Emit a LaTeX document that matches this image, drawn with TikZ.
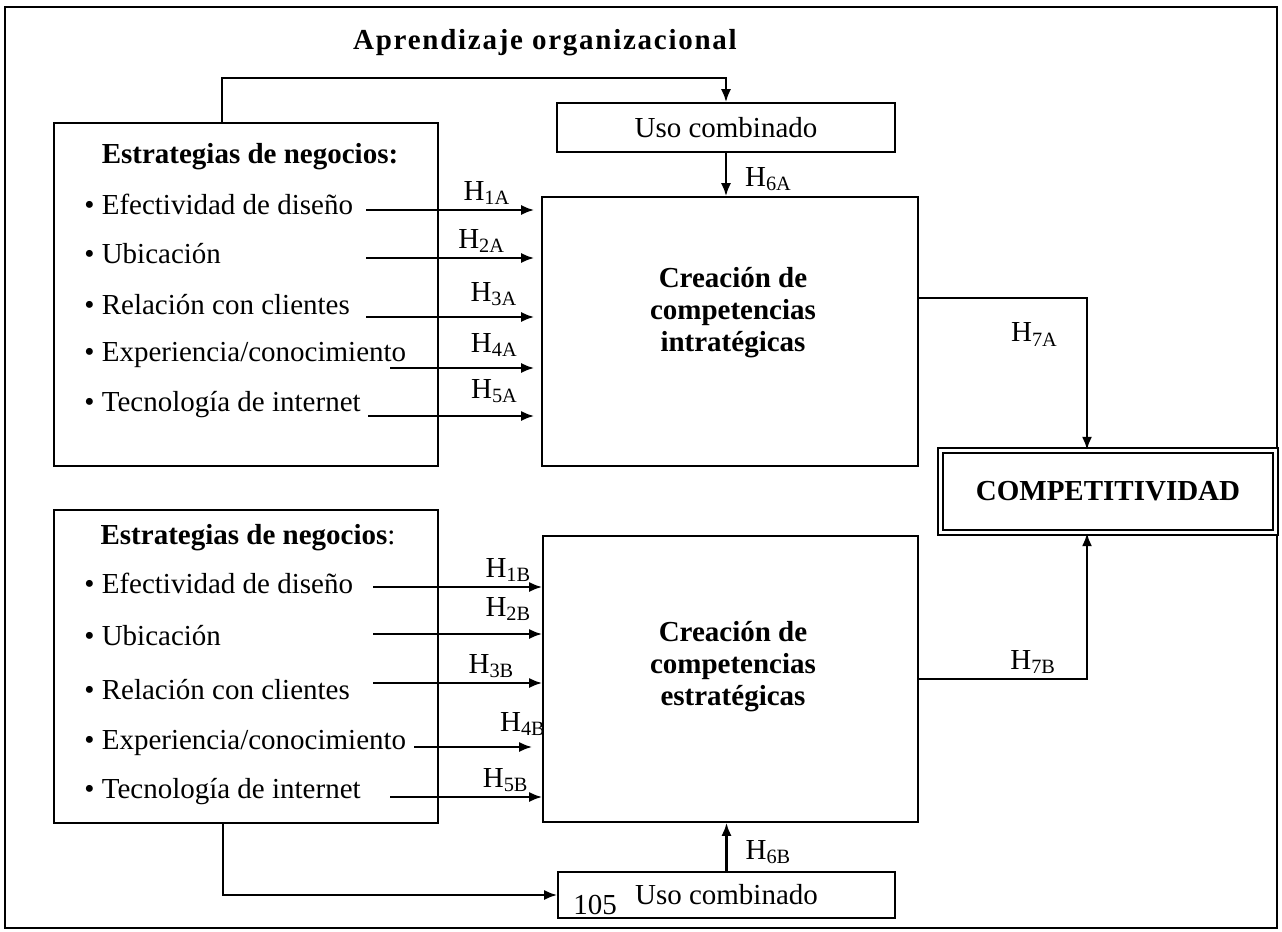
\documentclass[tikz,border=0pt]{standalone}
\usepackage{fontspec}
\setmainfont{Liberation Serif}
\usetikzlibrary{arrows.meta}

\begin{document}
\begin{tikzpicture}[x=0.5pt, y=-0.5pt, >={Latex[length=6.5pt,width=5pt]},
  txt/.style = {font=\fontsize{14.5pt}{17pt}\selectfont},
  bold/.style = {font=\fontsize{14.5pt}{16pt}\selectfont\bfseries},
  box/.style = {draw, line width=0.8pt, inner sep=0pt, txt},
  item/.style = {anchor=west, inner sep=0pt, txt},
  hyp/.style = {inner sep=2pt, txt},
  conn/.style = {line width=1.1pt}]
\useasboundingbox (0,0) rectangle (1282,932);
\draw[line width=0.8pt] (5,7) rectangle (1277,928);
\node[bold] (title) at (545,43) {\addfontfeature{LetterSpace=6}Aprendizaje organizacional};

% bloque A
\node[box, minimum width=169pt, minimum height=24.5pt] (usoA) at (726,127.5) {Uso combinado};
\node[box, minimum width=192pt, minimum height=171.5pt] (estA) at (246,294.5) {};
\node[bold] (estAt) at (250,157) {Estrategias de negocios:};
\node[item] (ia1) at (84,204) {\textbullet\ Efectividad de diseño};
\node[item] (ia2) at (84,254) {\textbullet\ Ubicación};
\node[item] (ia3) at (84,305) {\textbullet\ Relación con clientes};
\node[item] (ia4) at (84,355) {\textbullet\ Experiencia/conocimiento};
\node[item] (ia5) at (84,405) {\textbullet\ Tecnología de internet};
\node[box, minimum width=188pt, minimum height=134.5pt] (creaA) at (730,331.5) {};
\node[bold, align=center] (creaAt) at (733,313) {Creación de\\competencias\\intratégicas};

% bloque B
\node[box, minimum width=192pt, minimum height=156.5pt] (estB) at (246,666.5) {};
\node[bold] (estBt) at (248,538) {Estrategias de negocios\normalfont:};
\node[item] (ib1) at (84,583) {\textbullet\ Efectividad de diseño};
\node[item] (ib2) at (84,636) {\textbullet\ Ubicación};
\node[item] (ib3) at (84,690) {\textbullet\ Relación con clientes};
\node[item] (ib4) at (84,743) {\textbullet\ Experiencia/conocimiento};
\node[item] (ib5) at (84,792) {\textbullet\ Tecnología de internet};
\node[box, minimum width=187.5pt, minimum height=143pt] (creaB) at (730.5,679) {};
\node[bold, align=center] (creaBt) at (733,667) {Creación de\\competencias\\estratégicas};
\node[box, minimum width=168.5pt, minimum height=23pt] (usoB) at (726.5,895) {Uso combinado};
\node[txt, inner sep=0pt] (pag) at (595,905) {105};

\node[box, line width=0.6pt, double, double distance=1.9pt, minimum width=167.5pt, minimum height=41pt] (comp) at (1108,491.5) {\textbf{COMPETITIVIDAD}};

% H1-H5 A
\coordinate (a1) at (366,210);
\coordinate (a2) at (366,258);
\coordinate (a3) at (366,317);
\coordinate (a4) at (390,368);
\coordinate (a5) at (368,416);
\draw[conn, ->, shorten >=3.5pt] (a1) -- node[hyp, above, pos=0.69] {H\textsubscript{1A}} (a1 -| creaA.west);
\draw[conn, ->, shorten >=3.5pt] (a2) -- node[hyp, above, pos=0.66] {H\textsubscript{2A}} (a2 -| creaA.west);
\draw[conn, ->, shorten >=3.5pt] (a3) -- node[hyp, above=3pt, pos=0.73] {H\textsubscript{3A}} (a3 -| creaA.west);
\draw[conn, ->, shorten >=3.5pt] (a4) -- node[hyp, above=3pt, pos=0.69] {H\textsubscript{4A}} (a4 -| creaA.west);
\draw[conn, ->, shorten >=3.5pt] (a5) -- node[hyp, above=4pt, pos=0.73] {H\textsubscript{5A}} (a5 -| creaA.west);

% H1-H5 B
\coordinate (b1) at (373,587);
\coordinate (b2) at (373,634);
\coordinate (b3) at (373,683);
\coordinate (b4) at (414,747);
\coordinate (b5) at (390,797);
\draw[conn, ->] (b1) -- node[hyp, above, pos=0.80] {H\textsubscript{1B}} (b1 -| creaB.west);
\draw[conn, ->] (b2) -- node[hyp, above=4pt, pos=0.80] {H\textsubscript{2B}} (b2 -| creaB.west);
\draw[conn, ->] (b3) -- node[hyp, above, pos=0.70] {H\textsubscript{3B}} (b3 -| creaB.west);
\draw[conn, ->, shorten >=5pt] (b4) -- node[hyp, above=3pt, pos=0.85] {H\textsubscript{4B}} (b4 -| creaB.west);
\draw[conn, ->] (b5) -- node[hyp, above, pos=0.76] {H\textsubscript{5B}} (b5 -| creaB.west);

% uso combinado
\draw[conn, ->] ([xshift=-12pt]estA.north) -- ++(0,-44) -| (usoA.north);
\draw[conn, ->] (usoA.south) -- node[hyp, right=7pt, pos=0.6] {H\textsubscript{6A}} (usoA.south |- creaA.north);
\draw[conn, ->] ([xshift=-11.5pt]estB.south) |- (usoB.west);
\draw[conn, ->] (usoB.north) -- node[hyp, right=7pt, pos=0.4] {H\textsubscript{6B}} (usoB.north |- creaB.south);

% competitividad
\draw[conn, ->] ([yshift=16.75pt]creaA.east) -| node[hyp, left=12pt, pos=0.62] {H\textsubscript{7A}} ([xshift=-10.5pt]comp.north);
\draw[conn, ->] (creaB.east) -| node[hyp, above, pos=0.34] {H\textsubscript{7B}} ([xshift=-10.5pt]comp.south);
\end{tikzpicture}
\end{document}
